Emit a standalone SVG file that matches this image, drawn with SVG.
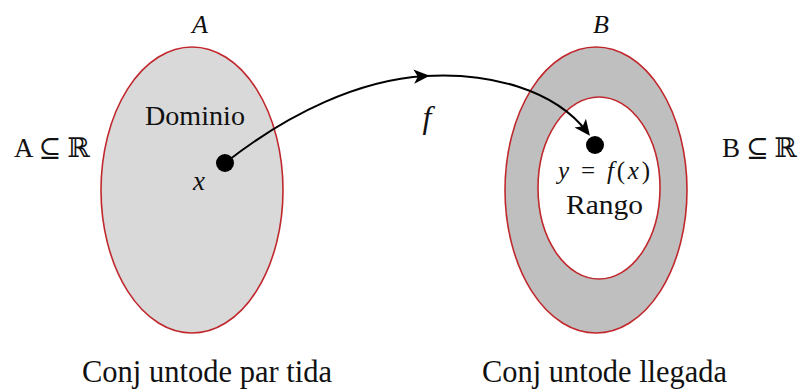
<svg xmlns="http://www.w3.org/2000/svg" width="800" height="390" viewBox="0 0 800 390">
<style>
.set{stroke:#c0282d;stroke-width:1.6}
.t{font-family:"Liberation Serif","DejaVu Serif",serif;fill:#111}
.i{font-style:italic}
.edge{fill:none;stroke:#000;stroke-width:2}
</style>
<defs>
<marker id="ah2" viewBox="0 0 10 10" refX="7" refY="5" markerWidth="16" markerHeight="16" markerUnits="userSpaceOnUse" orient="auto">
<path d="M0,0.5 L10,5 L0,9.5 L2.5,5 Z" fill="#000"/>
</marker>
</defs>
<rect width="800" height="390" fill="#fff"/>
<g id="setA">
<ellipse class="set" cx="192" cy="190" rx="91" ry="143" fill="#d9d9d9"/>
<text class="t i" x="200" y="33" font-size="26" text-anchor="middle">A</text>
<text class="t" x="145" y="125" font-size="27" textLength="100" lengthAdjust="spacingAndGlyphs">Dominio</text>
<text class="t" x="14" y="157" font-size="27" textLength="76" lengthAdjust="spacing">A ⊆ ℝ</text>
<circle cx="225" cy="163" r="9" fill="#000"/>
<text class="t i" x="199" y="190" font-size="27" text-anchor="middle">x</text>
<text class="t" x="82" y="382" font-size="31" textLength="250" lengthAdjust="spacingAndGlyphs">Conj untode par tida</text>
</g>
<g id="setB">
<ellipse class="set" cx="596" cy="190" rx="91" ry="143" fill="#bfbfbf"/>
<ellipse class="set" cx="599" cy="188" rx="61" ry="91" fill="#fff"/>
<text class="t i" x="601" y="33" font-size="26" text-anchor="middle">B</text>
<text class="t" x="722" y="157" font-size="27" textLength="75" lengthAdjust="spacing">B ⊆ ℝ</text>
<circle cx="595" cy="145" r="9" fill="#000"/>
<text class="t" x="558" y="179" font-size="25" textLength="92" lengthAdjust="spacing"><tspan class="i">y</tspan> = <tspan class="i">f</tspan>(<tspan class="i">x</tspan>)</text>
<text class="t" x="566" y="214" font-size="27" textLength="77" lengthAdjust="spacingAndGlyphs">Rango</text>
<text class="t" x="482" y="382" font-size="31" textLength="245" lengthAdjust="spacingAndGlyphs">Conj untode llegada</text>
</g>
<g id="connectors">
<path class="edge" d="M225,163 C290,112 360,80 425,76" marker-end="url(#ah2)"/>
<path class="edge" d="M425,76 C490,72 555,90 587,132" marker-end="url(#ah2)"/>
<text class="t i" x="427" y="128" font-size="32" text-anchor="middle">f</text>
</g>
</svg>
